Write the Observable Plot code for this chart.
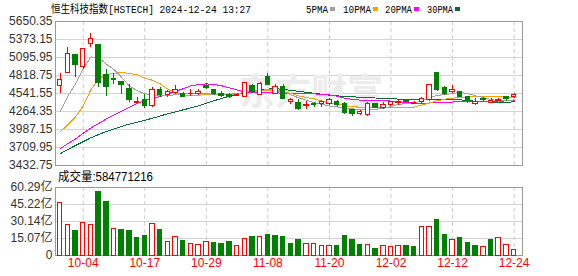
<!DOCTYPE html>
<html><head><meta charset="utf-8">
<script src="https://cdn.jsdelivr.net/npm/d3@7"></script>
<script src="https://cdn.jsdelivr.net/npm/@observablehq/plot@0.6"></script>
<style>
html,body{margin:0;padding:0;background:#fff;}
#wrap{position:relative;width:578px;height:276px;overflow:hidden;background:#fff;}
#wrap svg{position:absolute;left:0;}
</style></head><body><div id="wrap"></div>
<script>
const dates = ["09-30","10-02","10-03","10-04","10-07","10-08","10-09","10-10","10-14","10-15","10-16","10-17","10-18","10-21","10-22","10-23","10-24","10-25","10-28","10-29","10-30","10-31","11-01","11-04","11-05","11-06","11-07","11-08","11-11","11-12","11-13","11-14","11-15","11-18","11-19","11-20","11-21","11-22","11-25","11-26","11-27","11-28","11-29","12-02","12-03","12-04","12-05","12-06","12-09","12-10","12-11","12-12","12-13","12-16","12-17","12-18","12-19","12-20","12-23","12-24"];
const openP  = [4654,4860,5127,4947,5306,5296,4819,4767,4716,4613,4393,4449,4347,4588,4526,4545,4536,4530,4541,4660,4588,4536,4521,4510,4485,4655,4521,4793,4536,4639,4403,4393,4351,4385,4377,4382,4403,4382,4280,4229,4218,4375,4316,4367,4393,4449,4377,4408,4444,4855,4624,4562,4557,4485,4385,4454,4393,4423,4490,4480];
const highP  = [4845,5255,5135,5235,5470,5300,4906,4855,4720,4680,4485,4526,4639,4629,4588,4665,4560,4598,4598,4690,4608,4577,4536,4545,4710,4680,4716,4844,4680,4680,4459,4444,4418,4410,4434,4459,4434,4408,4285,4285,4408,4385,4408,4423,4444,4455,4418,4475,4670,4855,4649,4665,4572,4500,4459,4475,4459,4460,4500,4540];
const lowP   = [4537,4850,4783,4906,5245,4629,4500,4680,4521,4398,4390,4305,4331,4475,4485,4520,4475,4495,4511,4598,4516,4475,4459,4505,4480,4536,4510,4660,4530,4455,4367,4280,4290,4320,4331,4357,4331,4218,4188,4205,4187,4305,4290,4347,4357,4400,4367,4372,4423,4580,4511,4536,4475,4382,4357,4408,4390,4418,4420,4472];
const closeP = [4752,5152,4988,5229,5388,4701,4639,4742,4675,4449,4413,4347,4598,4511,4557,4600,4485,4540,4562,4629,4536,4505,4495,4525,4701,4567,4690,4665,4649,4459,4445,4310,4367,4370,4408,4434,4372,4239,4229,4254,4382,4320,4367,4408,4418,4408,4400,4459,4665,4588,4536,4598,4495,4423,4410,4434,4423,4444,4450,4515];
const volume = [46.5,27.4,21.5,29.1,27.4,56.5,47.7,23.5,22.9,21.5,15.3,17.7,28.2,22.9,12.4,16.5,12.6,10.6,9.5,12.4,11.5,10.0,11.8,8.1,14.9,16.1,16.1,17.9,17.1,16.1,10.6,14.1,10.6,10.6,8.8,8.8,8.8,17.1,13.5,9.7,9.7,6.2,8.8,7.9,8.8,8.8,7.1,25.6,25.6,31.8,18.5,14.1,15.9,11.5,8.8,7.1,14.1,15.9,9.7,5.3];
const volUp = [1,1,0,1,1,0,0,1,0,0,0,0,1,0,1,1,0,1,1,1,0,0,0,1,1,0,1,0,0,0,0,0,1,1,1,1,0,0,0,0,1,0,1,1,1,0,0,1,1,0,0,1,0,0,0,1,0,1,1,1];
const ma5  = [4254,4500,4690,4920,5105,5090,4995,4910,4790,4660,4585,4540,4515,4505,4505,4525,4535,4545,4550,4540,4525,4520,4525,4535,4560,4580,4590,4600,4595,4575,4520,4475,4440,4400,4375,4350,4335,4325,4305,4292,4290,4300,4310,4340,4375,4385,4395,4425,4480,4510,4525,4540,4560,4540,4505,4478,4450,4425,4430,4444];
const ma10 = [3950,4060,4180,4350,4600,4760,4830,4855,4860,4855,4830,4780,4745,4690,4610,4555,4520,4510,4515,4525,4530,4530,4530,4540,4560,4570,4580,4585,4580,4565,4545,4505,4480,4460,4420,4400,4380,4355,4340,4330,4325,4322,4322,4322,4321,4321,4330,4365,4395,4430,4455,4470,4480,4488,4495,4500,4500,4495,4488,4478];
const ma20 = [3690,3770,3840,3930,4010,4080,4150,4210,4270,4330,4390,4430,4470,4495,4535,4575,4615,4660,4680,4690,4680,4660,4630,4595,4565,4550,4550,4550,4550,4548,4545,4540,4538,4535,4530,4520,4500,4470,4450,4440,4435,4432,4430,4425,4415,4405,4395,4390,4395,4400,4405,4410,4415,4418,4418,4418,4420,4422,4428,4434];
const ma30 = [3613,3680,3740,3800,3860,3910,3955,3995,4035,4070,4100,4130,4160,4195,4230,4260,4290,4320,4350,4390,4430,4465,4500,4525,4555,4575,4595,4610,4615,4605,4590,4575,4560,4545,4530,4515,4505,4495,4490,4485,4478,4472,4468,4462,4455,4450,4448,4447,4446,4445,4445,4445,4443,4435,4420,4412,4410,4403,4405,4415];
const yTicks = [3432.75,3709.95,3987.15,4264.35,4541.55,4818.75,5095.95,5373.15,5650.35];
const volTicks = [0,15.07,30.14,45.22,60.29];
const labelDates = ["10-04","10-17","10-29","11-08","11-20","12-02","12-12","12-24"];
const titleText = "恒生科技指数[HSTECH] 2024-12-24 13:27";
const volText = "成交量:584771216";
const watermark = "东方财富";
const maNames = ["5PMA","10PMA","20PMA","30PMA"];

const RED = "#ff0000", GREEN = "#008000";
const maColors = ["#a0a0a0","#f5a200","#ff00ff","#006f35"];
const xDomain = [-0.6, 60.09];
const labelIdx = labelDates.map(d => dates.indexOf(d));
const candles = dates.map((d,i) => ({i, o: openP[i], h: highP[i], l: lowP[i], c: closeP[i], up: closeP[i] >= openP[i]}));
const vols = dates.map((d,i) => ({i, v: volume[i], up: volUp[i] === 1}));
const HW = 0.29;
const font = "'Liberation Sans', Arial, 'Noto Sans CJK SC', sans-serif";

const wrap = document.getElementById("wrap");

const p1 = Plot.plot({
  width: 578, height: 180, marginTop: 21, marginBottom: 15, marginLeft: 55, marginRight: 56,
  style: {fontFamily: font, fontSize: "12px", color: "#333", background: "transparent", overflow: "visible"},
  x: {type: "linear", domain: xDomain, axis: null},
  y: {domain: [yTicks[0], yTicks[yTicks.length-1]], axis: null},
  color: {type: "identity"},
  marks: [
    Plot.ruleY(yTicks, {stroke: "#d4d4d4"}),
    Plot.ruleX(labelIdx, {stroke: "#cccccc", strokeDasharray: "4,3"}),
    Plot.text([watermark], {text: d => d, frameAnchor: "middle", dx: 22, dy: 0, fontSize: 36, fontWeight: "bold", fill: "#ececec", fontFamily: "'Noto Sans CJK SC'"}),
    Plot.frame({stroke: "#9a9a9a"}),
    Plot.text(yTicks, {y: d => d, text: d => d.toFixed(2), frameAnchor: "left", dx: -3, textAnchor: "end", fill: "#333", fontSize: 12}),
    Plot.line(ma30, {x: (d,i) => i, y: d => d, stroke: maColors[3], strokeWidth: 1, shapeRendering: "crispEdges"}),
    Plot.line(ma20, {x: (d,i) => i, y: d => d, stroke: maColors[2], strokeWidth: 1, shapeRendering: "crispEdges"}),
    Plot.line(ma10, {x: (d,i) => i, y: d => d, stroke: maColors[1], strokeWidth: 1, shapeRendering: "crispEdges"}),
    Plot.line(ma5, {x: (d,i) => i, y: d => d, stroke: maColors[0], strokeWidth: 1, shapeRendering: "crispEdges"}),
    Plot.ruleX(candles, {x: "i", y1: "l", y2: "h", stroke: d => d.up ? RED : GREEN, shapeRendering: "crispEdges"}),
    Plot.rect(candles, {x1: d => d.i - HW, x2: d => d.i + HW, y1: "o", y2: "c", fill: d => d.up ? "#ffffff" : GREEN, stroke: d => d.up ? RED : GREEN, shapeRendering: "crispEdges"})
  ]
});
p1.style.top = "0px";
wrap.appendChild(p1);

const p2 = Plot.plot({
  width: 578, height: 106, marginTop: 17, marginBottom: 21, marginLeft: 55, marginRight: 56,
  style: {fontFamily: font, fontSize: "12px", color: "#333", background: "transparent", overflow: "visible"},
  x: {type: "linear", domain: xDomain, axis: null},
  y: {domain: [volTicks[0], volTicks[volTicks.length-1]], axis: null},
  color: {type: "identity"},
  marks: [
    Plot.ruleY(volTicks.slice(1, -1), {stroke: "#d4d4d4"}),
    Plot.ruleX(labelIdx, {stroke: "#cccccc", strokeDasharray: "4,3"}),
    Plot.frame({stroke: "#9a9a9a"}),
    Plot.rect(vols, {x1: d => d.i - HW, x2: d => d.i + HW, y1: 0, y2: "v", fill: d => d.up ? "#ffffff" : GREEN, stroke: d => d.up ? RED : GREEN, shapeRendering: "crispEdges"}),
    Plot.text(volTicks, {y: d => d, text: d => d === 0 ? "0" : d.toFixed(2) + "亿", frameAnchor: "left", dx: -3, textAnchor: "end", fill: "#333", fontSize: 12}),
    Plot.text(labelIdx, {x: d => d, text: d => dates[d], frameAnchor: "bottom", dy: 11, fill: RED, fontSize: 12})
  ]
});
p2.style.top = "170px";
wrap.appendChild(p2);

// overlay: title, legend, volume caption
const ov = d3.select(wrap).append("svg").attr("width", 578).attr("height", 276).style("top", "0px");
ov.append("text").attr("x", 51).attr("y", 13).attr("font-size", 11.5)
  .attr("font-family", "'Liberation Mono','Noto Sans CJK SC',monospace")
  .attr("textLength", 200).attr("lengthAdjust", "spacingAndGlyphs").attr("fill", "#000").text(titleText);
const legX = [306, 343, 385, 427];
const legW = [22, 28, 27, 26];
maNames.forEach((n, k) => {
  ov.append("text").attr("x", legX[k]).attr("y", 13).attr("font-size", 10.5)
    .attr("font-family", "'Liberation Mono',monospace")
    .attr("textLength", legW[k]).attr("lengthAdjust", "spacingAndGlyphs").attr("fill", "#000").text(n);
  ov.append("rect").attr("x", legX[k] + legW[k] + 2).attr("y", 7).attr("width", 5).attr("height", 4).attr("fill", maColors[k]);
});
ov.append("text").attr("x", 58).attr("y", 181).attr("font-size", 12)
  .attr("font-family", font).attr("textLength", 95).attr("lengthAdjust", "spacingAndGlyphs").attr("fill", "#000").text(volText);
</script></body></html>
